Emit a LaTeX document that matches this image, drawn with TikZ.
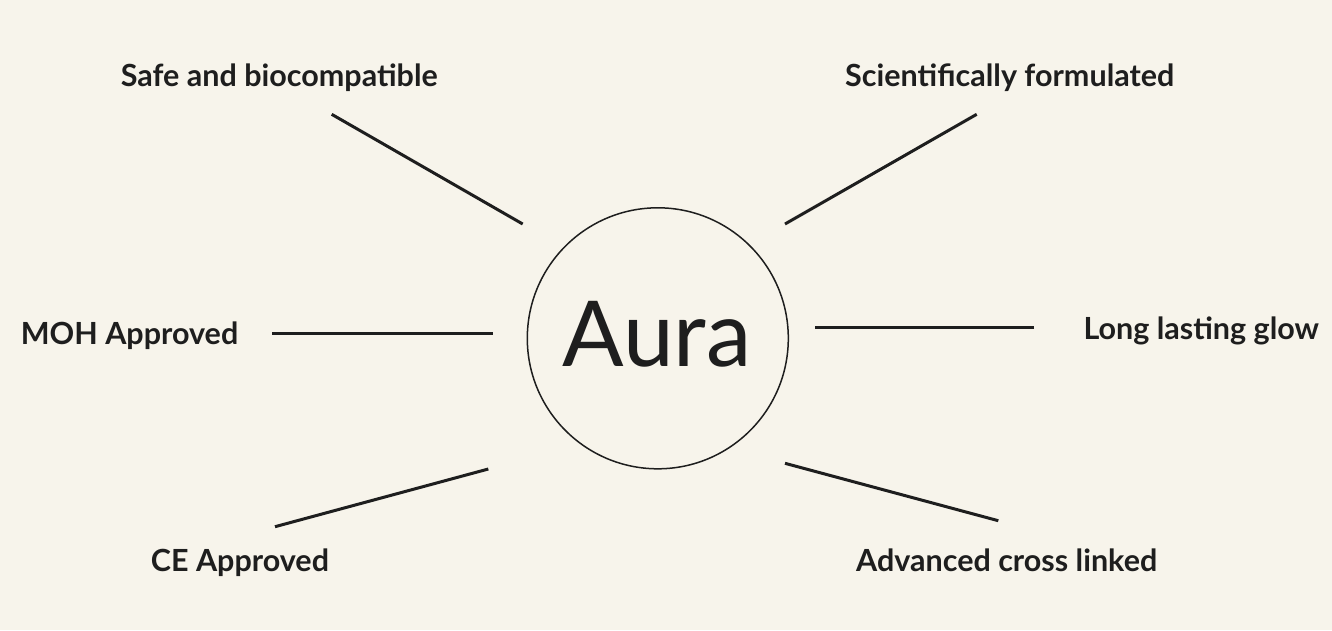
\documentclass[tikz,border=0pt]{standalone}
\usepackage{fontspec}
\setmainfont{Lato}
\usepackage{xcolor}
\usepackage{tikz}
\usetikzlibrary{positioning,calc}
\definecolor{paper}{HTML}{F7F4EB}
\definecolor{ink}{HTML}{1E1E1E}
\tikzset{
    label/.style={anchor=base west, inner sep=0pt, text=ink, font=\bfseries\fontsize{30.5}{30.5}\selectfont},
    spoke/.style={draw=ink, line width=3pt},
}

\begin{document}
\begin{tikzpicture}[x=1pt, y=-1pt]
    % Background
    \fill[paper] (0,0) rectangle (1332,630);
    \useasboundingbox (0,0) rectangle (1332,630);

    % Centre
    \node[circle, draw=ink, line width=1.5pt, minimum size=261pt, inner sep=0pt] (ring) at (657.8,338.3) {};
    \node[anchor=base, inner sep=0pt, text=ink, font=\fontsize{91}{91}\selectfont] (aura) at (657,366) {Aura};

    % Labels
    \node[label] (safe) at (120.7,86) {Safe and biocompatible};
    \node[label] (sci) at (845,86) {Scientifically formulated};
    \node[label] (moh) at (20.7,344.3) {MOH Approved};
    \node[label] (glow) at (1083.3,339.3) {Long lasting glow};
    \node[label] (ce) at (150.7,571.7) {CE Approved};
    \node[label] (cross) at (856,571.7) {Advanced cross linked};

    % Spoke ends
    \coordinate (safe-out) at (331.7,114.3);
    \coordinate (safe-in) at (522.7,224);
    \coordinate (sci-out) at (976.7,114.3);
    \coordinate (sci-in) at (785,224);
    \coordinate (moh-out) at (272,333.3);
    \coordinate (moh-in) at (492.7,333.3);
    \coordinate (glow-out) at (1034,327.7);
    \coordinate (glow-in) at (815,327.7);
    \coordinate (ce-out) at (275,526.7);
    \coordinate (ce-in) at (488.3,469);
    \coordinate (cross-out) at (998.3,520.7);
    \coordinate (cross-in) at (785,463.3);

    % Spokes
    \foreach \s in {safe,sci,moh,glow,ce,cross}
        \draw[spoke] (\s-out) -- (\s-in);
\end{tikzpicture}
\end{document}
